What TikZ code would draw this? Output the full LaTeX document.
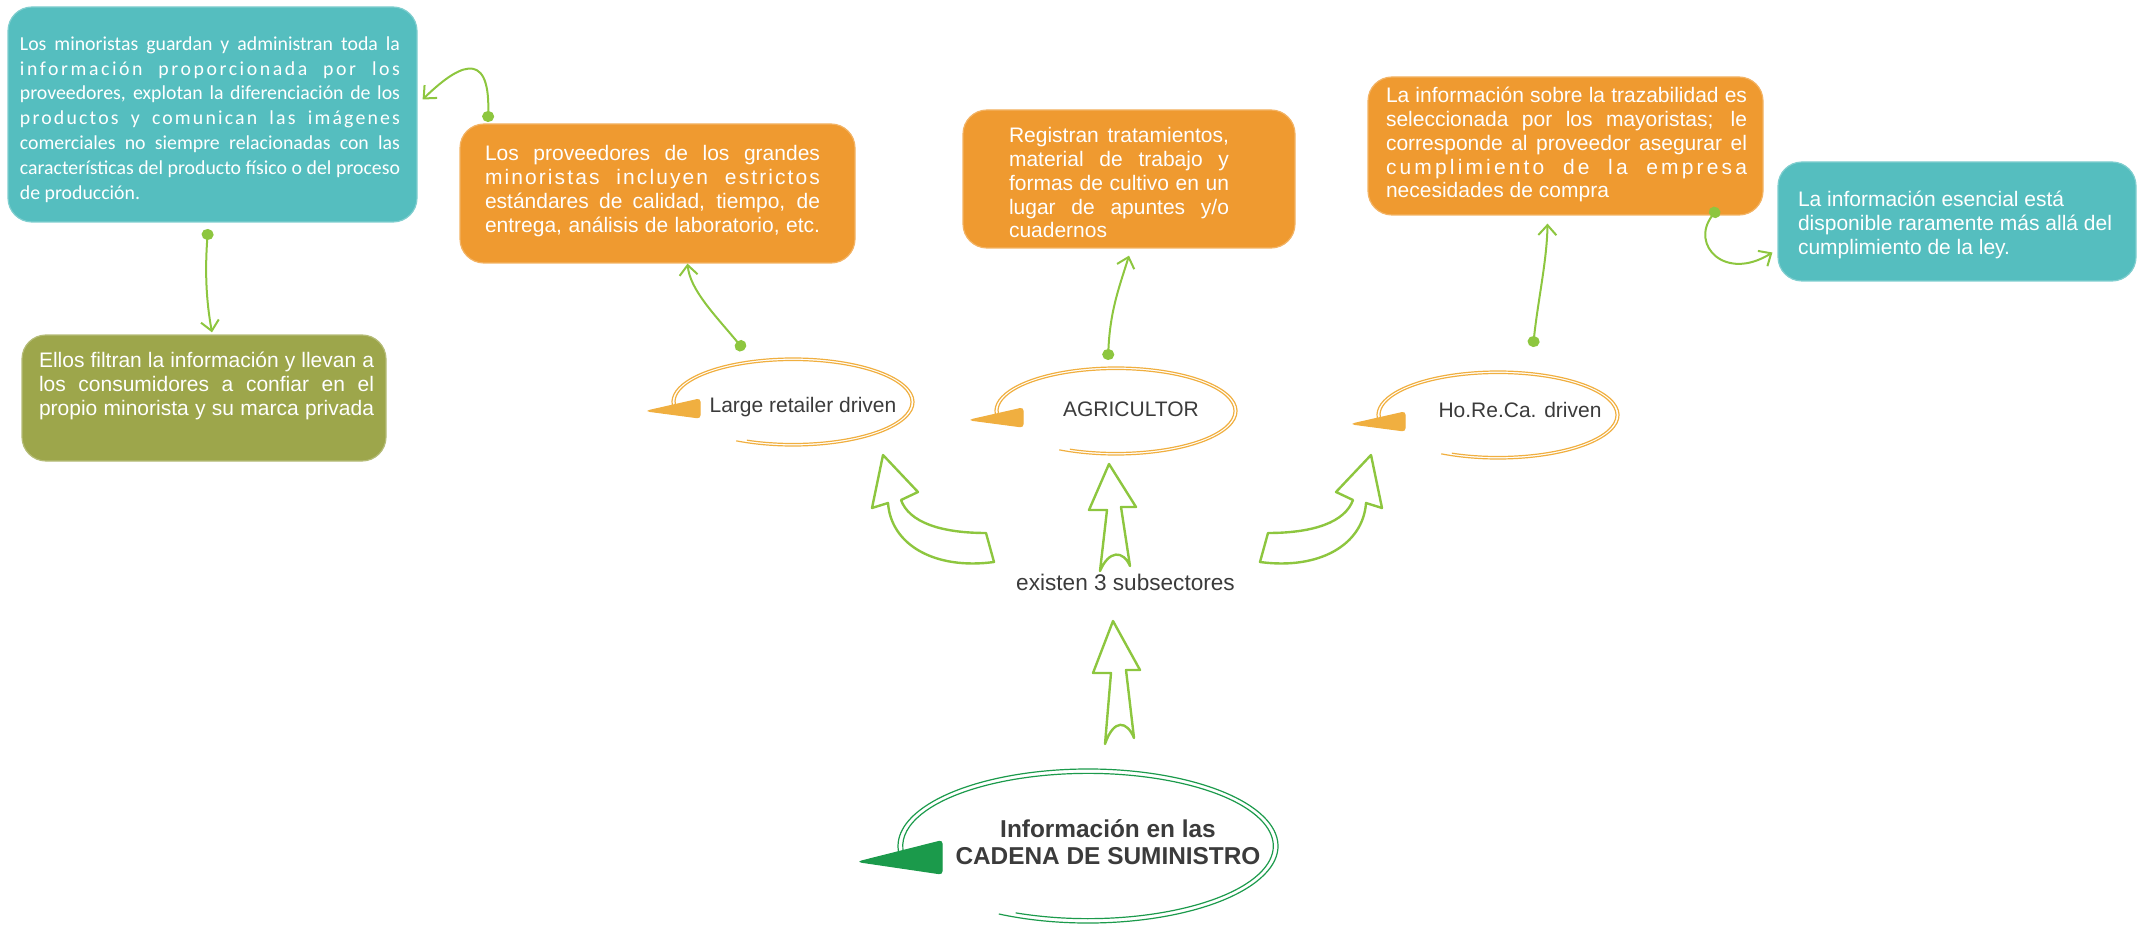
\documentclass[tikz,border=0pt]{standalone}
\usepackage{fontspec}
\setmainfont{Liberation Sans}
\newfontfamily\calfont{Carlito}
\usetikzlibrary{arrows.meta,calc}

\definecolor{tealbox}{HTML}{55BEBF}
\definecolor{orangebox}{HTML}{EF9A30}
\definecolor{olivebox}{HTML}{9DA64B}
\definecolor{ringorange}{HTML}{F0AF40}
\definecolor{ringgreen}{HTML}{1B9A4B}
\definecolor{linkgreen}{HTML}{8DC63F}
\definecolor{darktext}{HTML}{3B3B3B}

% one line of a box text: justified, natural, or letter-spaced and justified
\newcommand\lnjust[1]{\makebox[\linewidth][s]{\strut#1}\par}
\newcommand\lnnat[1]{\makebox[\linewidth][l]{\strut#1}\par}
\newcommand\lnspaced[2]{\makebox[\linewidth][s]{\addfontfeature{LetterSpace=#1}\strut#2}\par}
% text block of a box: horizontal offset, block height, block width, lines
\newcommand\boxtxt[4]{\hspace*{#1}\parbox[c][#2][t]{#3}{#4}}

\tikzset{
  infobox/.style={rectangle, rounded corners=12pt, inner sep=0pt,
    fill=#1, draw=#1!75!white, line width=0.6pt, text=white},
  ringtext/.style={font=\fontsize{10.5}{12}\selectfont, text=darktext, inner sep=0pt},
  maintext/.style={font=\bfseries\fontsize{12.2}{13.5}\selectfont, text=darktext,
    align=center, inner sep=0pt},
  link/.style={draw=linkgreen, line width=1pt,
    {Circle[length=5.5pt,width=6pt]}-{Straight Barb[length=5pt,width=9pt]}},
  blockarrow/.style={draw=linkgreen, line width=1.2pt, line join=round},
  swirl/.pic={
    \path[pic actions, fill=none] (118:121 and 44)
      arc[start angle=118, end angle=-188, x radius=121, y radius=44];
    \path[pic actions, fill=none] (113:118 and 41.5)
      arc[start angle=113, end angle=-186, x radius=118, y radius=41.5];
    \path[pic actions, rounded corners=1.5pt] (-146,9) -- (-93,-3) -- (-93,16) -- cycle;
  }
}

\begin{document}
\begin{tikzpicture}[x=0.5pt, y=-0.5pt]
\useasboundingbox (0,0) rectangle (2141,925);

% information boxes
\node[infobox=tealbox, minimum width=204.5pt, minimum height=107.5pt,
      font=\calfont\fontsize{9.9}{12.4}\selectfont] (b1) at (212.5,114.5)
  {\boxtxt{-2.5pt}{81.65pt}{190pt}{%
    \lnjust{Los minoristas guardan y administran toda la}
    \lnspaced{13}{información proporcionada por los}
    \lnjust{proveedores, explotan la diferenciación de los}
    \lnspaced{11}{productos y comunican las imágenes}
    \lnjust{comerciales no siempre relacionadas con las}
    \lnjust{características del producto físico o del proceso}
    \lnnat{de producción.}}};

\node[infobox=orangebox, minimum width=197.5pt, minimum height=69.5pt,
      font=\fontsize{10.5}{12}\selectfont] (b2) at (657.5,193.5)
  {\boxtxt{-5pt}{49.3pt}{167.5pt}{%
    \lnjust{Los proveedores de los grandes}
    \lnspaced{10}{minoristas incluyen estrictos}
    \lnjust{estándares de calidad, tiempo, de}
    \lnjust{entrega, análisis de laboratorio, etc.}}};

\node[infobox=orangebox, minimum width=166pt, minimum height=69pt,
      font=\fontsize{10.5}{11.85}\selectfont] (b3) at (1129,179)
  {\boxtxt{-10pt}{52.6pt}{110pt}{%
    \lnjust{Registran tratamientos,}
    \lnjust{material de trabajo y}
    \lnjust{formas de cultivo en un}
    \lnjust{lugar de apuntes y/o}
    \lnnat{cuadernos}}};

\node[infobox=orangebox, minimum width=197.5pt, minimum height=69pt,
      font=\fontsize{10.5}{11.85}\selectfont] (b4) at (1565.5,146)
  {\boxtxt{1pt}{59.6pt}{180.5pt}{%
    \lnjust{La información sobre la trazabilidad es}
    \lnjust{seleccionada por los mayoristas; le}
    \lnjust{corresponde al proveedor asegurar el}
    \lnspaced{15}{cumplimiento de la empresa}
    \lnnat{necesidades de compra}}};

\node[infobox=tealbox, minimum width=179pt, minimum height=59.5pt,
      font=\fontsize{10.5}{12}\selectfont] (b5) at (1957,221.5)
  {\boxtxt{0pt}{31.3pt}{159pt}{%
    \lnnat{La información esencial está}
    \lnnat{disponible raramente más allá del}
    \lnnat{cumplimiento de la ley.}}};

\node[infobox=olivebox, minimum width=182pt, minimum height=63pt,
      font=\fontsize{10.5}{12.15}\selectfont] (b6) at (204,398)
  {\boxtxt{2.5pt}{48pt}{167.5pt}{%
    \lnjust{Ellos filtran la información y llevan a}
    \lnjust{los consumidores a confiar en el}
    \lnjust{propio minorista y su marca privada}}};

% ring marks with their labels
\pic[draw=ringorange, fill=ringorange, line width=0.6pt] at (793,402) {swirl};
\pic[draw=ringorange, fill=ringorange, line width=0.6pt] at (1116,411) {swirl};
\pic[draw=ringorange, fill=ringorange, line width=0.6pt] at (1498,415) {swirl};
\pic[draw=ringgreen, fill=ringgreen, line width=0.6pt, xscale=1.57, yscale=1.75] at (1088,846) {swirl};

\node[ringtext, anchor=base] (lrd) at (803,412) {Large retailer driven};
\node[ringtext, anchor=base] (agr) at (1131,416) {AGRICULTOR};
\node[ringtext, anchor=base] (hrc) at (1520,417) {Ho.Re.Ca. driven};
\node[ringtext, font=\fontsize{11.3}{13}\selectfont, anchor=base] (sub) at (1125.5,590)
  {existen 3 subsectores};
\node[maintext, anchor=base] (info) at (1108,864) {Información en las\\CADENA DE SUMINISTRO};

% hollow block arrows
\draw[blockarrow] (1109,464) -- (1136,507) -- (1121,507) -- (1130,566)
  .. controls (1123,550) and (1109,550) .. (1100,571) -- (1107,510) -- (1089,510) -- cycle;
\draw[blockarrow] (1113,621) -- (1140,670) -- (1126,670) -- (1134,738)
  .. controls (1127,721) and (1114,718) .. (1105,744) -- (1111,673) -- (1093,673) -- cycle;
\draw[blockarrow] (883,455) -- (918,492) -- (901,500)
  .. controls (909,522) and (940,533) .. (986,533) -- (994,562)
  .. controls (935,570) and (891,545) .. (888,503) -- (872,508) -- cycle;
\draw[blockarrow] (1371,455) -- (1336,492) -- (1353,500)
  .. controls (1345,522) and (1314,533) .. (1268,533) -- (1260,562)
  .. controls (1319,570) and (1363,545) .. (1366,503) -- (1382,508) -- cycle;

% connector start points
\coordinate (d1) at (488,122);
\coordinate (d2) at (208,229);
\coordinate (d3) at (744,350);
\coordinate (d4) at (1108,360);
\coordinate (d5) at (1533,347);
\coordinate (d6) at (1718,208);

% connectors
\draw[link] (d1) .. controls (490,45) and (455,68) .. ($(b1.east)+(5,-15)$);
\draw[link] (d2) .. controls (205,270) and (206,300) .. ($(b6.north)+(8,-2)$);
\draw[link] (d3) .. controls (715,315) and (690,290) .. ($(b2.south)+(30,0)$);
\draw[link] (d4) .. controls (1110,310) and (1120,285) .. ($(b3.south)+(0,7)$);
\draw[link] (d5) .. controls (1538,300) and (1547,260) .. ($(b4.south)+(-18,8)$);
\draw[link] (d6) .. controls (1690,245) and (1725,282) .. ($(b5.west)+(-5,31)$);
\end{tikzpicture}
\end{document}
